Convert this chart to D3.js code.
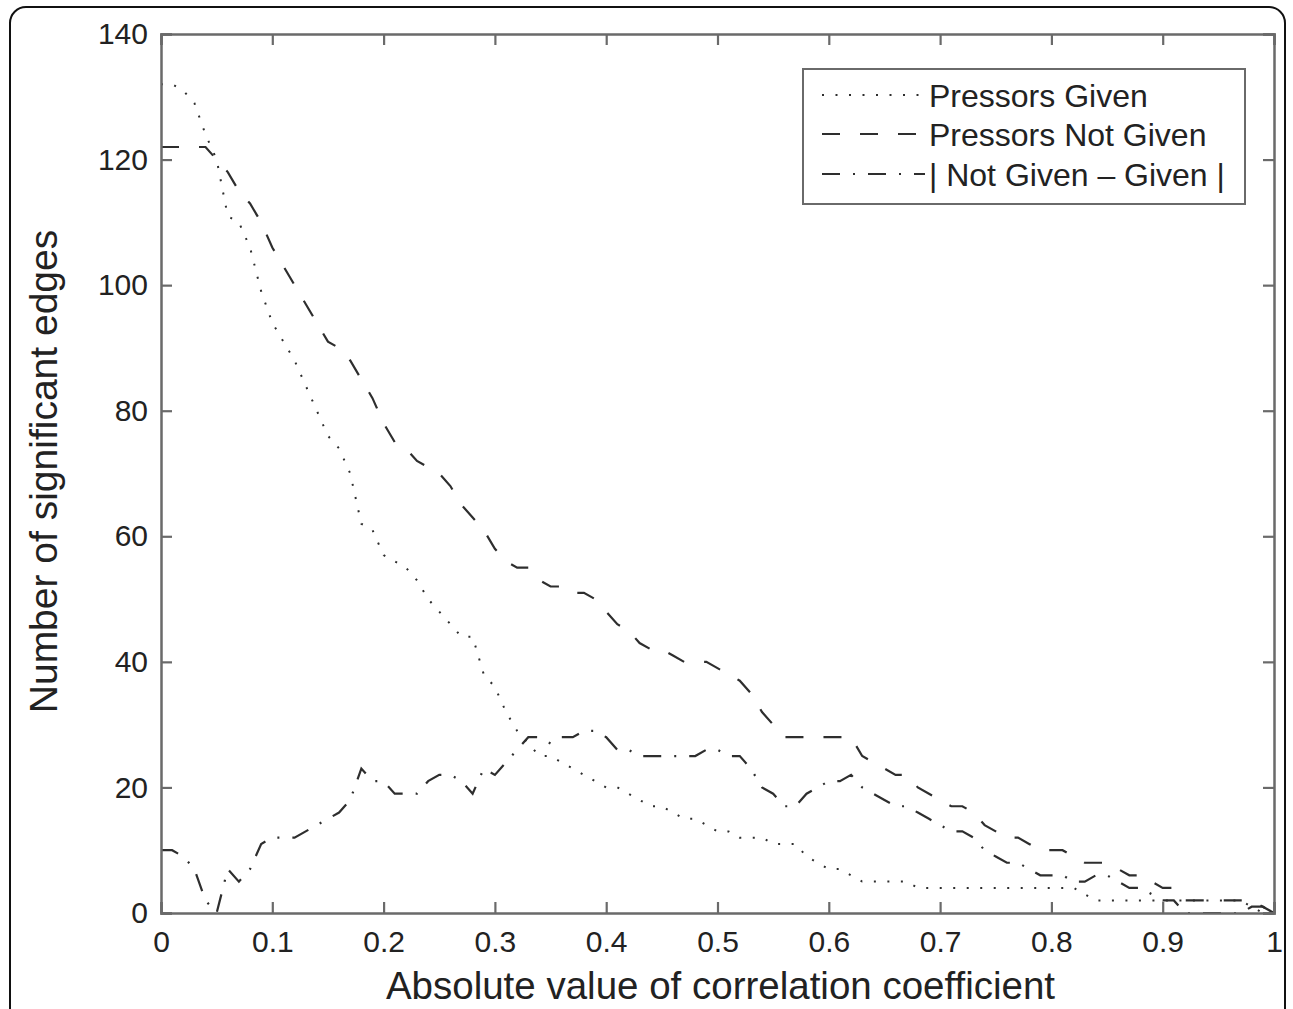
<!DOCTYPE html>
<html>
<head>
<meta charset="utf-8">
<script src="https://cdn.jsdelivr.net/npm/d3@7"></script>
<style>
  html, body { margin: 0; padding: 0; background: #fff; }
  svg { display: block; }
  text { font-family: "Liberation Sans", Arial, Helvetica, sans-serif; fill: #222; }
</style>
</head>
<body>
<svg id="chart" width="1293" height="1009"></svg>
<script>
// ---- data ----
const corrCoef = d3.range(101).map(i => i / 100); // absolute value of correlation coefficient (0.00 .. 1.00)

const pressorsGiven = [
  132,132,131,129,124,120,111,110,106, 99,
   94, 91, 88, 84, 80, 76, 74, 70, 62, 61,
   57, 56, 55, 53, 50, 48, 46, 44, 44, 38,
   36, 32, 29, 27, 25, 25, 24, 23, 22, 21,
   20, 20, 19, 18, 17, 17, 16, 15, 15, 14,
   13, 13, 12, 12, 12, 11, 11, 11,  9,  8,
    7,  7,  6,  5,  5,  5,  5,  5,  4,  4,
    4,  4,  4,  4,  4,  4,  4,  4,  4,  4,
    4,  4,  4,  3,  2,  2,  2,  2,  2,  2,
    2,  2,  2,  2,  2,  2,  2,  2,  1,  0,
    0
];

const pressorsNotGiven = [
  122,122,122,122,122,120,118,115,113,110,
  106,103,100, 97, 94, 91, 90, 88, 85, 82,
   78, 75, 74, 72, 71, 70, 68, 65, 63, 61,
   58, 56, 55, 55, 53, 52, 52, 51, 51, 50,
   48, 46, 45, 43, 42, 42, 41, 40, 40, 40,
   39, 38, 37, 35, 32, 30, 28, 28, 28, 28,
   28, 28, 28, 25, 24, 23, 22, 22, 20, 19,
   18, 17, 17, 16, 14, 13, 12, 12, 11, 10,
   10, 10,  9,  8,  8,  8,  7,  6,  6,  5,
    4,  4,  2,  2,  2,  2,  2,  2,  2,  1,
    0
];

const absDifference = [
   10, 10,  9,  7,  2,  0,  7,  5,  7, 11,
   12, 12, 12, 13, 14, 15, 16, 18, 23, 21,
   21, 19, 19, 19, 21, 22, 22, 21, 19, 23,
   22, 24, 26, 28, 28, 27, 28, 28, 29, 29,
   28, 26, 26, 25, 25, 25, 25, 25, 25, 26,
   26, 25, 25, 23, 20, 19, 17, 17, 19, 20,
   21, 21, 22, 20, 19, 18, 17, 17, 16, 15,
   14, 13, 13, 12, 10,  9,  8,  8,  7,  6,
    6,  6,  5,  5,  6,  6,  5,  4,  4,  3,
    2,  2,  0,  0,  0,  0,  0,  0,  1,  1,
    0
];

const seriesNames = ["Pressors Given", "Pressors Not Given", "| Not Given \u2013 Given |"];
const xTickValues = [0, 0.1, 0.2, 0.3, 0.4, 0.5, 0.6, 0.7, 0.8, 0.9, 1];
const xTickLabels = ["0", "0.1", "0.2", "0.3", "0.4", "0.5", "0.6", "0.7", "0.8", "0.9", "1"];
const yTickValues = [0, 20, 40, 60, 80, 100, 120, 140];
const yTickLabels = ["0", "20", "40", "60", "80", "100", "120", "140"];
const xTitle = "Absolute value of correlation coefficient";
const yTitle = "Number of significant edges";

// ---- layout ----
const svg = d3.select("#chart");
const L = 161, R = 1274, T = 34, B = 913;
const x = d3.scaleLinear().domain([0, 1]).range([L, R]);
const y = d3.scaleLinear().domain([0, 140]).range([B, T]);

const lineColor = "#2e2e2e";
const axisColor = "#6a6a6a";
const styles = [
  { dash: "2,11.5", width: 2 },
  { dash: "18,20", width: 2.2 },
  { dash: "18,13,2,13", width: 2.2 }
];

// outer rounded frame
svg.append("rect")
  .attr("x", 10).attr("y", 7).attr("width", 1275).attr("height", 1100)
  .attr("rx", 16).attr("ry", 16)
  .attr("fill", "none").attr("stroke", "#111").attr("stroke-width", 2);

// series
const seriesData = [pressorsGiven, pressorsNotGiven, absDifference];
const lineGen = d3.line().x((d, i) => x(corrCoef[i])).y(d => y(d));
seriesData.forEach((vals, k) => {
  svg.append("path")
    .datum(vals)
    .attr("d", lineGen)
    .attr("fill", "none")
    .attr("stroke", lineColor)
    .attr("stroke-width", styles[k].width)
    .attr("stroke-dasharray", styles[k].dash);
});

// axes (box with ticks inward on all sides)
const tickLen = 11;
const gBottom = svg.append("g").attr("transform", `translate(0,${B})`)
  .call(d3.axisBottom(x).tickValues(xTickValues).tickSize(-tickLen).tickPadding(18)
        .tickFormat((d, i) => xTickLabels[i]));
const gTop = svg.append("g").attr("transform", `translate(0,${T})`)
  .call(d3.axisTop(x).tickValues(xTickValues).tickSize(-tickLen).tickFormat(""));
const gLeft = svg.append("g").attr("transform", `translate(${L},0)`)
  .call(d3.axisLeft(y).tickValues(yTickValues).tickSize(-tickLen).tickPadding(13)
        .tickFormat((d, i) => yTickLabels[i]));
const gRight = svg.append("g").attr("transform", `translate(${R},0)`)
  .call(d3.axisRight(y).tickValues(yTickValues).tickSize(-tickLen).tickFormat(""));

[gBottom, gTop, gLeft, gRight].forEach(g => {
  g.select(".domain").attr("stroke", axisColor).attr("stroke-width", 2.5);
  g.selectAll(".tick line").attr("stroke", axisColor).attr("stroke-width", 2.2);
  g.selectAll(".tick text")
    .attr("fill", "#222")
    .style("font-family", '"Liberation Sans", Arial, sans-serif')
    .style("font-size", "30px");
});
gBottom.selectAll(".tick text").attr("dy", "0.71em");

// axis titles
svg.append("text")
  .attr("x", (L + R) / 2 + 3).attr("y", 999)
  .attr("text-anchor", "middle")
  .style("font-size", "38.5px")
  .text(xTitle);

svg.append("text")
  .attr("transform", `translate(57,${(T + B) / 2 - 2}) rotate(-90)`)
  .attr("text-anchor", "middle")
  .style("font-size", "39px")
  .text(yTitle);

// legend
const lg = svg.append("g");
lg.append("rect")
  .attr("x", 803).attr("y", 69).attr("width", 442).attr("height", 135)
  .attr("fill", "#fff").attr("stroke", axisColor).attr("stroke-width", 2);
const rowY = [95, 134, 174];
seriesNames.forEach((name, k) => {
  lg.append("line")
    .attr("x1", 822).attr("x2", 925)
    .attr("y1", rowY[k]).attr("y2", rowY[k])
    .attr("stroke", lineColor)
    .attr("stroke-width", styles[k].width)
    .attr("stroke-dasharray", styles[k].dash);
  lg.append("text")
    .attr("x", 929).attr("y", rowY[k])
    .attr("dy", "0.36em")
    .style("font-size", "32px")
    .text(name);
});
</script>
</body>
</html>
